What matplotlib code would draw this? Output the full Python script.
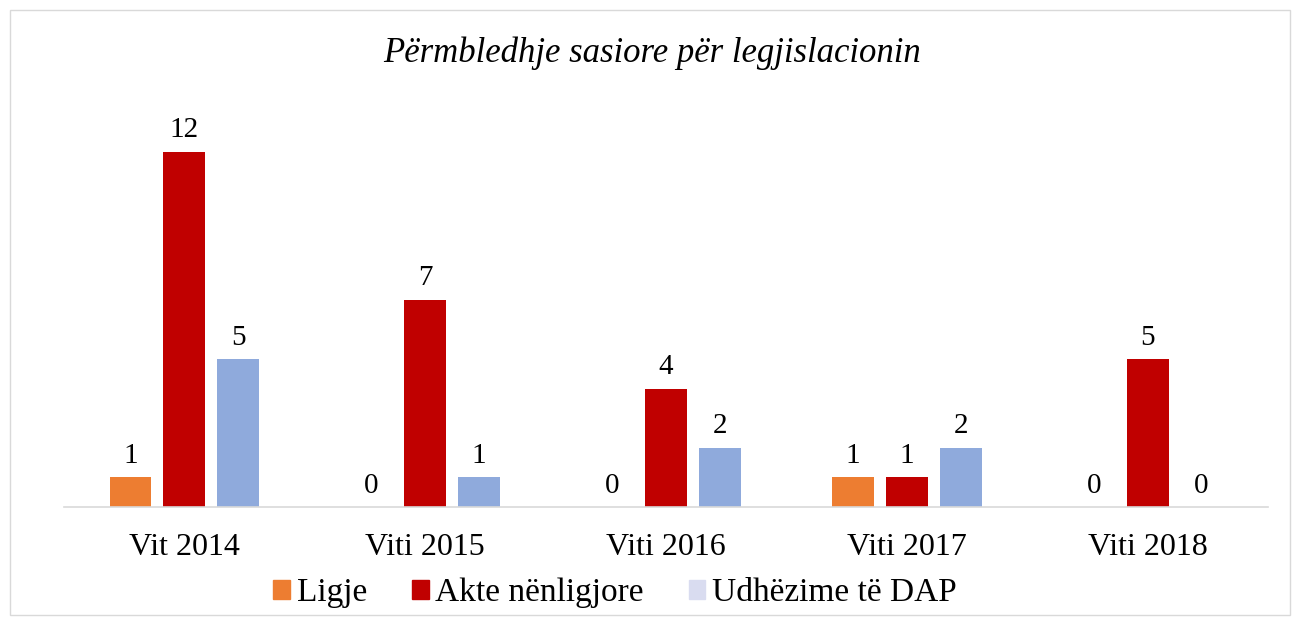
import matplotlib
matplotlib.use("Agg")
import matplotlib.pyplot as plt
from matplotlib.patches import Rectangle, Patch
import numpy as np

categories = ['Vit 2014', 'Viti 2015', 'Viti 2016', 'Viti 2017', 'Viti 2018']
ligje = [1, 0, 0, 1, 0]
akte = [12, 7, 4, 1, 5]
udhezime = [5, 1, 2, 2, 0]
series_names = ['Ligje', 'Akte nënligjore', 'Udhëzime të DAP']
colors = ['#ed7d31', '#c00000', '#8faadc']
legend_colors = ['#ed7d31', '#c00000', '#d9dcf0']

plt.rcParams['font.family'] = ['Liberation Serif', 'DejaVu Serif']

fig = plt.figure(figsize=(13.04, 6.21), dpi=100)
fig.patches.append(Rectangle((10 / 1304, 6 / 621), 1280 / 1304, 605 / 621,
                             transform=fig.transFigure, fill=False,
                             edgecolor='#d9d9d9', linewidth=1))

ax = fig.add_axes([64 / 1304, (621 - 507) / 621, 1204 / 1304, 407 / 621])
x = np.arange(len(categories))
w = 0.174
step = 0.224
for i, (vals, c) in enumerate(zip([ligje, akte, udhezime], colors)):
    bars = ax.bar(x + (i - 1) * step, vals, w, color=c)
    for b, v in zip(bars, vals):
        ax.annotate(str(v), (b.get_x() + b.get_width() / 2, v),
                    xytext=(0, 6), textcoords='offset points',
                    ha='center', va='bottom', fontsize=21)

ax.set_xlim(-0.5, len(categories) - 0.5)
ax.set_ylim(0, 13.75)
ax.set_yticks([])
ax.set_xticks(x)
ax.set_xticklabels(categories, fontsize=23)
ax.tick_params(axis='x', length=0, pad=19)
for s in ['top', 'right', 'left']:
    ax.spines[s].set_visible(False)
ax.spines['bottom'].set_color('#d9d9d9')
ax.spines['bottom'].set_linewidth(1.2)

fig.text(0.5, 1 - 53 / 621, 'Përmbledhje sasiore për legjislacionin',
         ha='center', va='center', fontsize=25, style='italic')

handles = [Patch(color=c) for c in legend_colors]
fig.legend(handles, series_names, loc='center', bbox_to_anchor=(615 / 1304, 1 - 593 / 621),
           ncol=3, frameon=False, fontsize=24, handlelength=0.5, handleheight=0.5,
           handletextpad=0.2, columnspacing=1.35, borderpad=0)

fig.savefig('out.png', dpi=100)
